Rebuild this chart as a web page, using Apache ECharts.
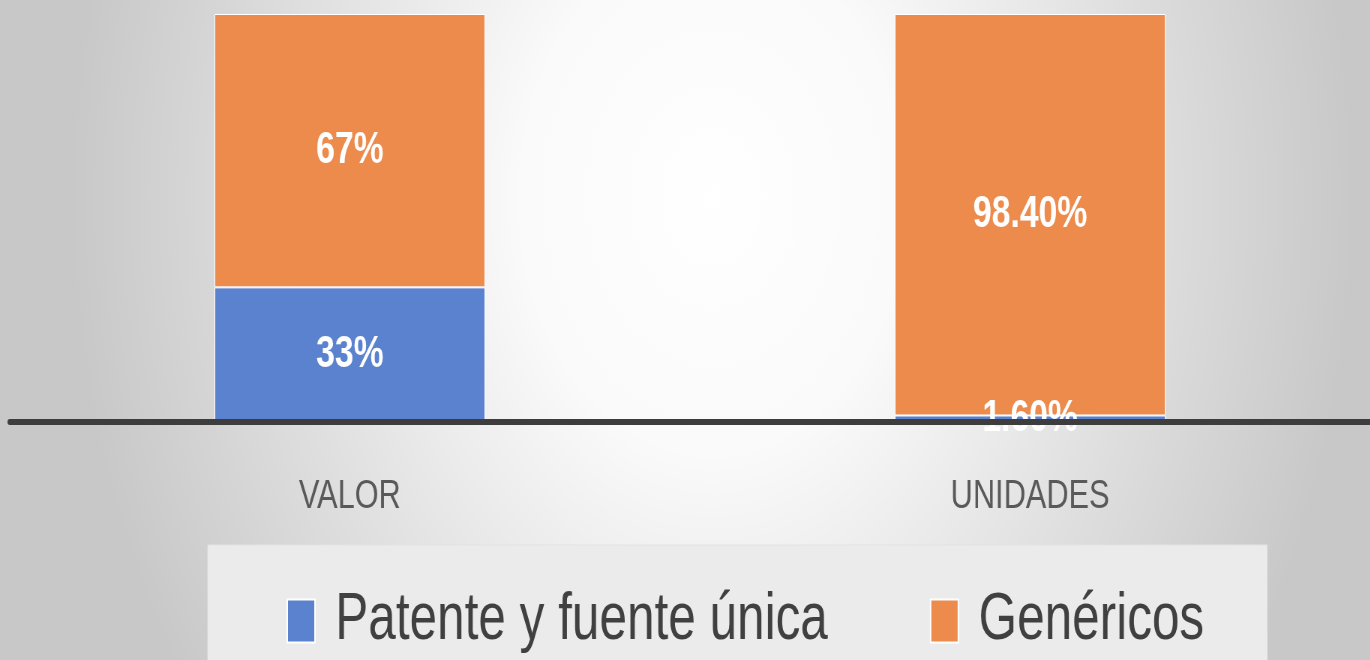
<!DOCTYPE html>
<html>
<head>
<meta charset="utf-8">
<script src="https://cdn.jsdelivr.net/npm/echarts@6/dist/echarts.min.js"></script>
<style>
html,body{margin:0;padding:0;width:1370px;height:660px;overflow:hidden;}
#c{width:1827px;height:660px;transform:scaleX(0.75);transform-origin:0 0;}
</style>
</head>
<body>
<div id="c"></div>
<script>
const categories = ['VALOR', 'UNIDADES'];
const seriesNames = ['Patente y fuente única', 'Genéricos'];
const patente = [0.33, 0.016];
const genericos = [0.67, 0.984];
const patenteLabels = ['33%', '1.60%'];
const genericosLabels = ['67%', '98.40%'];

const chart = echarts.init(document.getElementById('c'));
const labelStyle = {
  show: true, position: 'inside', color: '#ffffff',
  fontFamily: '"Liberation Sans", Arial, sans-serif',
  fontWeight: 'bold', fontSize: 45
};
chart.setOption({
  backgroundColor: {
    type: 'radial', x: 0.52, y: 0.3, r: 1.3,
    colorStops: [
      { offset: 0, color: '#ffffff' },
      { offset: 0.3, color: '#fafafa' },
      { offset: 0.7, color: '#dddddd' },
      { offset: 1, color: '#c8c8c8' }
    ]
  },
  animation: false,
  grid: { left: 13, top: 14, width: 1827, bottom: 238 },
  xAxis: {
    type: 'category', data: categories,
    axisLine: { show: true, lineStyle: { color: '#3d3d3d', width: 6 } },
    axisTick: { show: false },
    axisLabel: {
      color: '#595959', fontSize: 41, margin: 54,
      fontFamily: '"Liberation Sans", Arial, sans-serif'
    },
    z: 10
  },
  yAxis: { type: 'value', min: 0, max: 1, show: false },
  legend: {
    data: seriesNames,
    left: 277, top: 545,
    backgroundColor: '#ebebeb',
    borderColor: '#e3e3e3', borderWidth: 1,
    padding: [43, 84, 40, 105],
    itemWidth: 37, itemHeight: 43, itemGap: 136,
    icon: 'rect',
    textStyle: {
      color: '#404040', fontSize: 66,
      fontFamily: '"Liberation Sans", Arial, sans-serif',
      padding: [0, 0, 0, 22]
    }
  },
  series: [
    {
      name: seriesNames[0], type: 'bar', stack: 'total', data: patente,
      barWidth: 361,
      itemStyle: { color: '#5a82cf', borderColor: '#ffffff', borderWidth: 1 },
      label: Object.assign({}, labelStyle, { formatter: p => patenteLabels[p.dataIndex] })
    },
    {
      name: seriesNames[1], type: 'bar', stack: 'total', data: genericos,
      barWidth: 361,
      itemStyle: { color: '#ec8b4c', borderColor: '#ffffff', borderWidth: 1 },
      label: Object.assign({}, labelStyle, { formatter: p => genericosLabels[p.dataIndex] })
    }
  ]
});
</script>
</body>
</html>
